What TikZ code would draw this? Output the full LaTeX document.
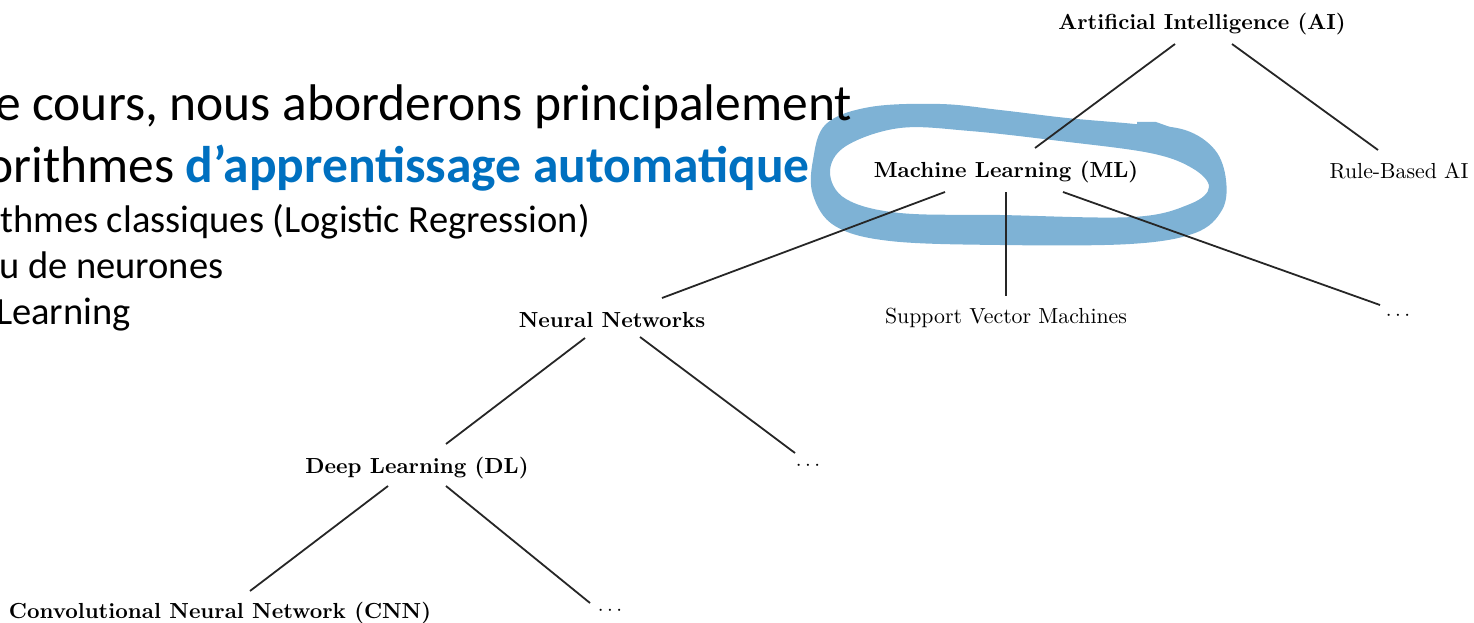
\documentclass[tikz,border=0pt]{standalone}
\usepackage{fontspec}
\newfontfamily\slidefont{Carlito}
\newfontfamily\treefont[BoldFont=lmroman10-bold.otf]{lmroman10-regular.otf}
\definecolor{officeblue}{RGB}{0,112,192}
\definecolor{marker}{RGB}{126,178,213}

\begin{document}
\begin{tikzpicture}[x=1pt,y=-1pt,
  concept/.style={font=\treefont\fontsize{21.8}{24}\selectfont\bfseries, inner sep=0pt,
                  text height=15pt, text depth=5pt},
  leaf/.style={font=\treefont\fontsize{21.8}{24}\selectfont, inner sep=0pt,
               text height=15pt, text depth=5pt},
  more/.style={font=\fontsize{21.4}{24}\selectfont, inner sep=0pt},
  branch/.style={line width=1.8pt, black!85},
  bigline/.style={font=\slidefont\fontsize{51.5}{60}\selectfont, anchor=base west, inner sep=0pt},
  smallline/.style={font=\slidefont\fontsize{38.5}{44}\selectfont, anchor=base west, inner sep=0pt}]

\useasboundingbox (0,0) rectangle (1474,623);
\clip (0,0) rectangle (1474,623);

% hand-drawn highlight loop around the ML node
\fill[marker, even odd rule]
  plot[smooth cycle, tension=0.6] coordinates {
    (813,160) (826,124) (870,107) (940,104) (1000,110) (1067,118) (1135,124)
    (1185,130) (1215,150) (1226,180) (1222,210) (1195,233) (1130,244)
    (1000,245) (890,241) (835,226) (813,195)}
  plot[smooth cycle, tension=0.6] coordinates {
    (830,172) (846,146) (900,128) (970,131) (1060,141) (1150,153) (1192,168)
    (1209,187) (1190,204) (1133,217) (1000,215) (900,213) (846,199)};
\fill[marker] (1137,131) -- (1137,122) -- (1156,122) -- (1170,127) -- (1170,131) -- cycle;

% slide text
\node[bigline] (l1) at (-5,121) {e cours, nous aborderons principalement};
\node[bigline] (l2) at (-14,182) {orithmes \textcolor{officeblue}{\bfseries d’apprentissage automatique}};
\node[smallline] (l3) at (0,232) {thmes classiques (Logistic Regression)};
\node[smallline] (l4) at (-1,278) {u de neurones};
\node[smallline] (l5) at (-4,324) {Learning};

% tree nodes
\node[concept] (ai)  at (1202,25)  {Artificial Intelligence (AI)};
\node[concept] (ml)  at (1006,172) {Machine Learning (ML)};
\node[leaf]    (rule) at (1399,173) {Rule-Based AI};
\node[concept] (nn)  at (612,322)  {Neural Networks};
\node[leaf]    (svm) at (1006,318) {Support Vector Machines};
\node[more]    (mlmore) at (1398,316) {$\cdots$};
\node[concept] (dl)  at (417,468)  {Deep Learning (DL)};
\node[more]    (nnmore) at (808,466) {$\cdots$};
\node[concept] (cnn) at (220,613)  {Convolutional Neural Network (CNN)};
\node[more]    (dlmore) at (610,611) {$\cdots$};

% branches
\draw[branch] ([shift={(-27,19)}]ai.center) -- ([shift={(29,-24)}]ml.center);
\draw[branch] ([shift={(30,19)}]ai.center) -- ([shift={(-21,-23)}]rule.center);
\draw[branch] ([shift={(-61,20)}]ml.center) -- ([shift={(50,-24)}]nn.center);
\draw[branch] ([shift={(0,20)}]ml.center) -- ([shift={(0,-22)}]svm.center);
\draw[branch] ([shift={(57,20)}]ml.center) -- ([shift={(-18,-11)}]mlmore.center);
\draw[branch] ([shift={(-27,16)}]nn.center) -- ([shift={(29,-24)}]dl.center);
\draw[branch] ([shift={(28,15)}]nn.center) -- ([shift={(-13,-13)}]nnmore.center);
\draw[branch] ([shift={(-29,18)}]dl.center) -- ([shift={(30,-22)}]cnn.center);
\draw[branch] ([shift={(29,18)}]dl.center) -- ([shift={(-20,-8)}]dlmore.center);
\end{tikzpicture}
\end{document}
